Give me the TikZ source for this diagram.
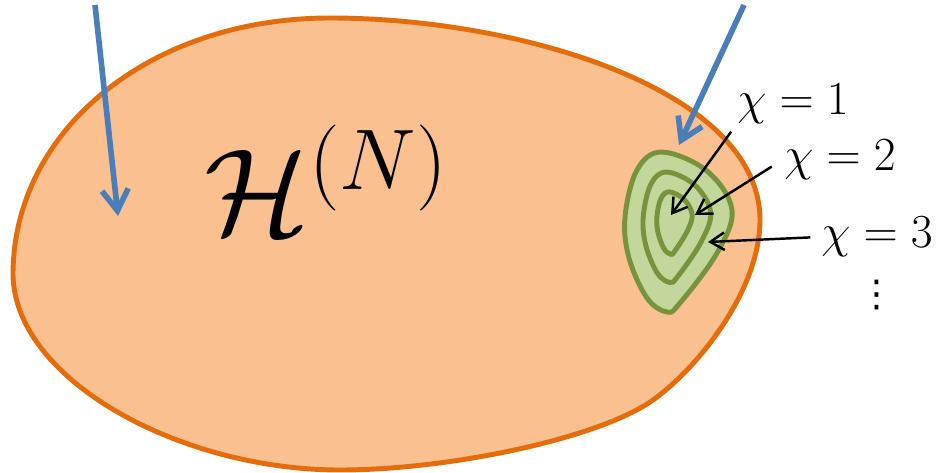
\RequirePackage{fix-cm}
\documentclass[tikz,border=0pt]{standalone}
\usepackage{amsmath}
\usepackage{fontspec}
\usepackage{xcolor}
\usepackage{tikz}
\usetikzlibrary{arrows.meta}

\newfontfamily\dotsfont{DejaVu Sans}

\definecolor{blobline}{HTML}{E46C0A}
\definecolor{blobfill}{HTML}{FAC090}
\definecolor{ringline}{HTML}{77933C}
\definecolor{ringfill}{HTML}{C3D69B}
\definecolor{probeblue}{HTML}{4A7EBB}

\begin{document}
\begin{tikzpicture}[
        x=0.02cm, y=-0.02cm,
        blob/.style={draw=blobline, fill=blobfill, line width=2.8pt},
        ring/.style={draw=ringline, fill=ringfill, line width=2.8pt},
        probe/.style={draw=probeblue, line width=3.2pt,
            -{Straight Barb[length=12pt, width=15pt]}},
        chiarr/.style={line width=1.4pt, -{Straight Barb[length=8pt, width=10pt]}},
        chilab/.style={font=\fontsize{27}{32}\selectfont, inner sep=1pt}
    ]
    \useasboundingbox (0,0) rectangle (940,473);

    % the big region
    \draw[blob] (13,275) .. controls (13,130) and (150,18) .. (330,18)
        .. controls (520,18) and (760,90) .. (760,220)
        .. controls (760,290) and (698,368) .. (653,400)
        .. controls (600,438) and (450,470) .. (340,470)
        .. controls (180,470) and (15,380) .. (13,275) -- cycle;

    % nested level sets
    \foreach \cx/\cy/\sx/\sy in {677/228/1/1, 676/224.5/0.63/0.69, 674/221.5/0.33/0.39}
        \draw[ring, shift={(\cx,\cy)}, xscale=\sx, yscale=\sy]
            plot[smooth cycle, tension=0.6] coordinates {
            (-15,-76) (30,-57) (55,-18) (40,25) (3,75) (-10,84)
            (-30,70) (-48,30) (-52,-11) (-40,-58)};

    \node[font=\fontsize{70}{82}\selectfont, anchor=base west, inner sep=0pt]
        (hn) at (204,234) {$\mathcal{H}^{(N)}$};

    \node[chilab] (chi1) at (793,104) {$\chi = 1$};
    \node[chilab] (chi2) at (840,160) {$\chi = 2$};
    \node[chilab] (chi3) at (877,237) {$\chi = 3$};
    \node[font=\dotsfont\fontsize{21}{25}\selectfont, inner sep=0pt] (more) at (877,295) {⋮};

    \coordinate (in1)  at (95,5);
    \coordinate (hit1) at (118,216);
    \coordinate (in2)  at (744,5);
    \coordinate (hit2) at (679,145);
    \coordinate (tip1) at (671,215);
    \coordinate (tip2) at (695,215);
    \coordinate (tip3) at (708,242);

    \draw[probe] (in1) -- (hit1);
    \draw[probe] (in2) -- (hit2);

    \draw[chiarr, shorten <=4pt] (chi1.south west) -- (tip1);
    \draw[chiarr, shorten <=7pt] (chi2.west) -- (tip2);
    \draw[chiarr, shorten <=5pt] (chi3.west) -- (tip3);
\end{tikzpicture}
\end{document}
